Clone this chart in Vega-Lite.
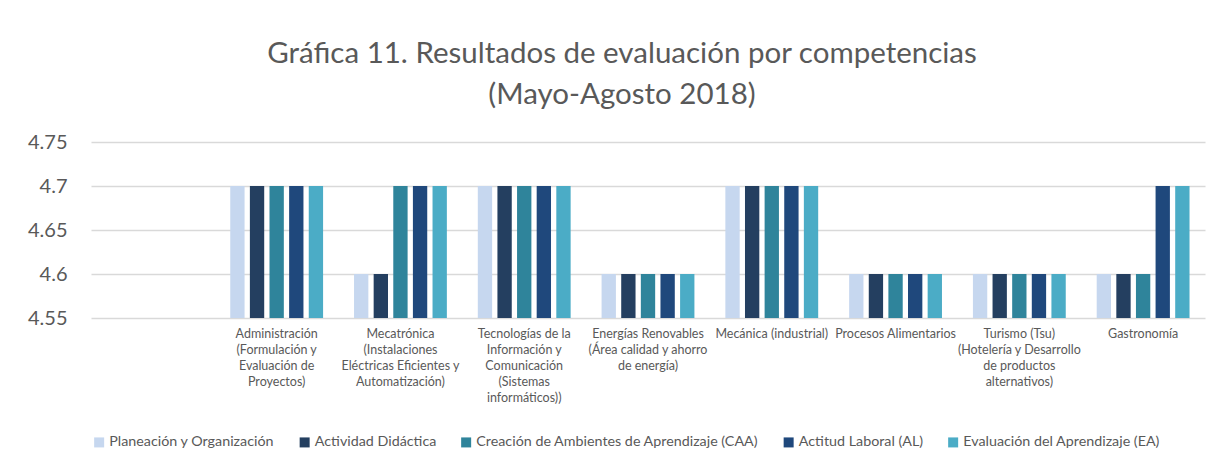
{
  "$schema": "https://vega.github.io/schema/vega-lite/v6.json",
  "autosize": {"type": "none"},
  "width": 1114,
  "height": 176,
  "padding": {"left": 91, "top": 142, "right": 18, "bottom": 152},
  "background": "white",
  "title": {
    "text": ["Gráfica 11. Resultados de evaluación por competencias", "(Mayo-Agosto 2018)"],
    "font": "Lato",
    "fontSize": 29.5,
    "fontWeight": "normal",
    "color": "#595959",
    "lineHeight": 41,
    "anchor": "middle",
    "dx": -26,
    "offset": 22
  },
  "data": {
    "values": [
      {"c": "Administración|(Formulación y|Evaluación de|Proyectos)", "s": "Planeación y Organización", "v": 4.7},
      {"c": "Administración|(Formulación y|Evaluación de|Proyectos)", "s": "Actividad Didáctica", "v": 4.7},
      {"c": "Administración|(Formulación y|Evaluación de|Proyectos)", "s": "Creación de Ambientes de Aprendizaje (CAA)", "v": 4.7},
      {"c": "Administración|(Formulación y|Evaluación de|Proyectos)", "s": "Actitud Laboral (AL)", "v": 4.7},
      {"c": "Administración|(Formulación y|Evaluación de|Proyectos)", "s": "Evaluación del Aprendizaje (EA)", "v": 4.7},
      {"c": "Mecatrónica|(Instalaciones|Eléctricas Eficientes y|Automatización)", "s": "Planeación y Organización", "v": 4.6},
      {"c": "Mecatrónica|(Instalaciones|Eléctricas Eficientes y|Automatización)", "s": "Actividad Didáctica", "v": 4.6},
      {"c": "Mecatrónica|(Instalaciones|Eléctricas Eficientes y|Automatización)", "s": "Creación de Ambientes de Aprendizaje (CAA)", "v": 4.7},
      {"c": "Mecatrónica|(Instalaciones|Eléctricas Eficientes y|Automatización)", "s": "Actitud Laboral (AL)", "v": 4.7},
      {"c": "Mecatrónica|(Instalaciones|Eléctricas Eficientes y|Automatización)", "s": "Evaluación del Aprendizaje (EA)", "v": 4.7},
      {"c": "Tecnologías de la|Información y|Comunicación|(Sistemas|informáticos))", "s": "Planeación y Organización", "v": 4.7},
      {"c": "Tecnologías de la|Información y|Comunicación|(Sistemas|informáticos))", "s": "Actividad Didáctica", "v": 4.7},
      {"c": "Tecnologías de la|Información y|Comunicación|(Sistemas|informáticos))", "s": "Creación de Ambientes de Aprendizaje (CAA)", "v": 4.7},
      {"c": "Tecnologías de la|Información y|Comunicación|(Sistemas|informáticos))", "s": "Actitud Laboral (AL)", "v": 4.7},
      {"c": "Tecnologías de la|Información y|Comunicación|(Sistemas|informáticos))", "s": "Evaluación del Aprendizaje (EA)", "v": 4.7},
      {"c": "Energías Renovables|(Área calidad y ahorro|de energía)", "s": "Planeación y Organización", "v": 4.6},
      {"c": "Energías Renovables|(Área calidad y ahorro|de energía)", "s": "Actividad Didáctica", "v": 4.6},
      {"c": "Energías Renovables|(Área calidad y ahorro|de energía)", "s": "Creación de Ambientes de Aprendizaje (CAA)", "v": 4.6},
      {"c": "Energías Renovables|(Área calidad y ahorro|de energía)", "s": "Actitud Laboral (AL)", "v": 4.6},
      {"c": "Energías Renovables|(Área calidad y ahorro|de energía)", "s": "Evaluación del Aprendizaje (EA)", "v": 4.6},
      {"c": "Mecánica (industrial)", "s": "Planeación y Organización", "v": 4.7},
      {"c": "Mecánica (industrial)", "s": "Actividad Didáctica", "v": 4.7},
      {"c": "Mecánica (industrial)", "s": "Creación de Ambientes de Aprendizaje (CAA)", "v": 4.7},
      {"c": "Mecánica (industrial)", "s": "Actitud Laboral (AL)", "v": 4.7},
      {"c": "Mecánica (industrial)", "s": "Evaluación del Aprendizaje (EA)", "v": 4.7},
      {"c": "Procesos Alimentarios", "s": "Planeación y Organización", "v": 4.6},
      {"c": "Procesos Alimentarios", "s": "Actividad Didáctica", "v": 4.6},
      {"c": "Procesos Alimentarios", "s": "Creación de Ambientes de Aprendizaje (CAA)", "v": 4.6},
      {"c": "Procesos Alimentarios", "s": "Actitud Laboral (AL)", "v": 4.6},
      {"c": "Procesos Alimentarios", "s": "Evaluación del Aprendizaje (EA)", "v": 4.6},
      {"c": "Turismo (Tsu)|(Hotelería y Desarrollo|de productos|alternativos)", "s": "Planeación y Organización", "v": 4.6},
      {"c": "Turismo (Tsu)|(Hotelería y Desarrollo|de productos|alternativos)", "s": "Actividad Didáctica", "v": 4.6},
      {"c": "Turismo (Tsu)|(Hotelería y Desarrollo|de productos|alternativos)", "s": "Creación de Ambientes de Aprendizaje (CAA)", "v": 4.6},
      {"c": "Turismo (Tsu)|(Hotelería y Desarrollo|de productos|alternativos)", "s": "Actitud Laboral (AL)", "v": 4.6},
      {"c": "Turismo (Tsu)|(Hotelería y Desarrollo|de productos|alternativos)", "s": "Evaluación del Aprendizaje (EA)", "v": 4.6},
      {"c": "Gastronomía", "s": "Planeación y Organización", "v": 4.6},
      {"c": "Gastronomía", "s": "Actividad Didáctica", "v": 4.6},
      {"c": "Gastronomía", "s": "Creación de Ambientes de Aprendizaje (CAA)", "v": 4.6},
      {"c": "Gastronomía", "s": "Actitud Laboral (AL)", "v": 4.7},
      {"c": "Gastronomía", "s": "Evaluación del Aprendizaje (EA)", "v": 4.7}
    ]
  },
  "mark": {"type": "bar", "clip": true},
  "encoding": {
    "x": {
      "field": "c",
      "type": "nominal",
      "sort": null,
      "scale": {
        "domain": [" ",
          "Administración|(Formulación y|Evaluación de|Proyectos)",
          "Mecatrónica|(Instalaciones|Eléctricas Eficientes y|Automatización)",
          "Tecnologías de la|Información y|Comunicación|(Sistemas|informáticos))",
          "Energías Renovables|(Área calidad y ahorro|de energía)",
          "Mecánica (industrial)",
          "Procesos Alimentarios",
          "Turismo (Tsu)|(Hotelería y Desarrollo|de productos|alternativos)",
          "Gastronomía"],
        "paddingInner": 0.25,
        "paddingOuter": 0.125
      },
      "axis": {
        "title": null,
        "labelAngle": 0,
        "labelExpr": "split(datum.label, '|')",
        "labelFont": "Lato",
        "labelFontSize": 12.5,
        "labelColor": "#595959",
        "labelLineHeight": 16,
        "labelPadding": 9,
        "labelLimit": 0,
        "ticks": false,
        "domain": false,
        "labelBaseline": "top"
      }
    },
    "xOffset": {
      "field": "s",
      "type": "nominal",
      "sort": null,
      "scale": {
        "domain": ["Planeación y Organización", "Actividad Didáctica", "Creación de Ambientes de Aprendizaje (CAA)", "Actitud Laboral (AL)", "Evaluación del Aprendizaje (EA)"],
        "paddingInner": 0.27,
        "paddingOuter": 0
      }
    },
    "y": {
      "field": "v",
      "type": "quantitative",
      "scale": {"domain": [4.55, 4.75], "zero": false, "nice": false},
      "axis": {
        "title": null,
        "values": [4.55, 4.6, 4.65, 4.7, 4.75],
        "format": ".2~f",
        "labelFont": "Lato",
        "labelFontSize": 20,
        "labelColor": "#595959",
        "labelPadding": 24,
        "ticks": false,
        "domain": false,
        "gridColor": "#d9d9d9",
        "gridWidth": 1.5
      }
    },
    "y2": {"datum": 4.55},
    "color": {
      "field": "s",
      "type": "nominal",
      "sort": null,
      "scale": {
        "domain": ["Planeación y Organización", "Actividad Didáctica", "Creación de Ambientes de Aprendizaje (CAA)", "Actitud Laboral (AL)", "Evaluación del Aprendizaje (EA)"],
        "range": ["#c6d7ef", "#243f60", "#2f849b", "#1f487c", "#4bacc6"]
      },
      "legend": {
        "title": null,
        "orient": "none",
        "direction": "horizontal",
        "legendX": 1,
        "legendY": 293,
        "symbolType": "square",
        "symbolSize": 100,
        "symbolStrokeWidth": 0,
        "labelFont": "Lato",
        "labelFontSize": 14.3,
        "labelColor": "#595959",
        "labelLimit": 0,
        "labelOffset": 3,
        "columnPadding": 22.5
      }
    }
  },
  "config": {"view": {"stroke": null}}
}
